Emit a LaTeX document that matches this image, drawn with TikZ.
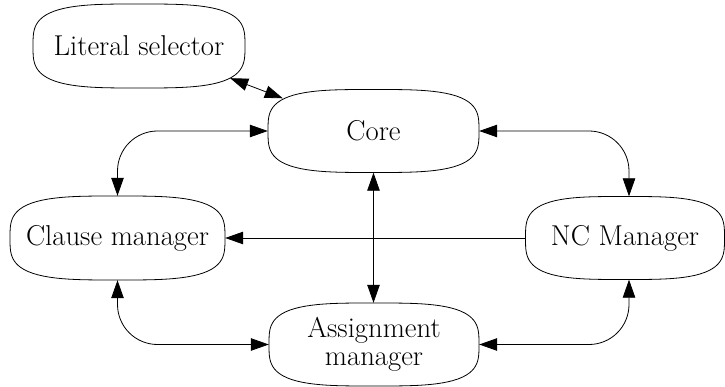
\documentclass[tikz,border=0pt]{standalone}
\usetikzlibrary{arrows.meta,calc}
\newcommand\drawblob[3]{%
  \draw[line width=0.8pt,shift={(#1.center)}]
    plot[domain=1:361,samples=121]
      ({#2*cos(\x)/(abs(cos(\x))^3.4+abs(sin(\x))^3.4)^(1/3.4)},
       {#3*sin(\x)/(abs(cos(\x))^3.4+abs(sin(\x))^3.4)^(1/3.4)}) -- cycle;}
\begin{document}
\begin{tikzpicture}[x=1pt,y=-1pt,
  blob/.style={align=center,font=\fontsize{28.7}{28}\selectfont,inner sep=0pt},
  arr/.style={line width=0.8pt,{Triangle[length=18pt,width=12.5pt]}-{Triangle[length=18pt,width=12.5pt]}},
  arrone/.style={line width=0.8pt,-{Triangle[length=18pt,width=12.5pt]}}]
\useasboundingbox (0,0) rectangle (725,387);
\node[blob,minimum width=212pt,minimum height=84pt] (ls) at (139,46) {Literal selector};
\node[blob,minimum width=211pt,minimum height=83pt] (core) at (373.5,131) {Core};
\node[blob,minimum width=215pt,minimum height=84pt] (cm) at (117.5,238) {Clause manager};
\node[blob,minimum width=199pt,minimum height=83pt] (nc) at (625,238) {NC Manager};
\node[blob,minimum width=210pt,minimum height=83pt] (am) at (374,344.5) {Assignment\\manager};
\drawblob{ls}{106}{42}
\drawblob{core}{105.5}{41.5}
\drawblob{cm}{107.5}{42}
\drawblob{nc}{99.5}{41.5}
\drawblob{am}{105}{41.5}
\draw[arr] ([shift={(-15,-10)}]ls.south east) -- ([shift={(15,9)}]core.north west);
\draw[arr,rounded corners=40pt] (core.west) -| (cm.north);
\draw[arr,rounded corners=40pt] (core.east) -| ([xshift=4]nc.north);
\draw[arr] (core.south) -- (core.south |- am.north);
\draw[arrone] (nc.west) -- (cm.east);
\draw[arr,rounded corners=40pt] (cm.south) |- (am.west);
\draw[arr,rounded corners=40pt] ([xshift=4]nc.south) |- (am.east);
\end{tikzpicture}
\end{document}
